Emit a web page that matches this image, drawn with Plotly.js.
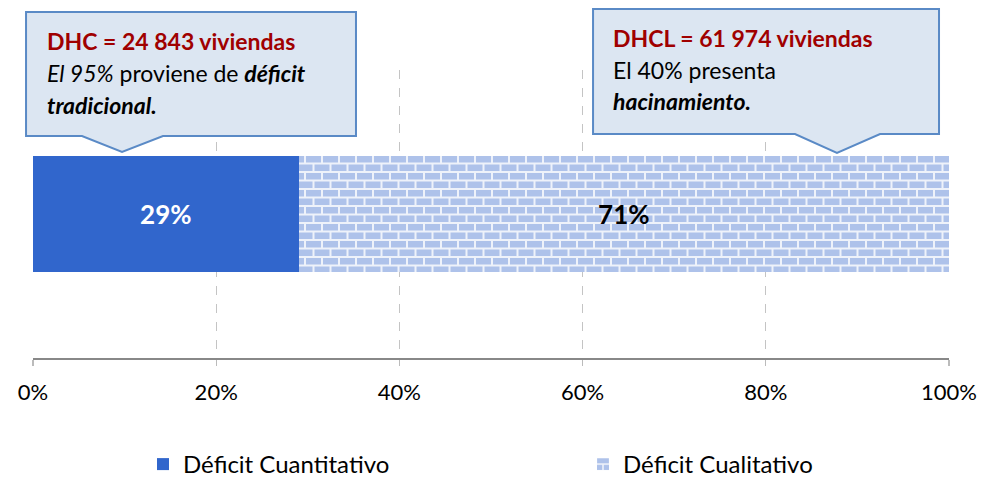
<!DOCTYPE html>
<html><head><meta charset="utf-8">
<script src="https://cdn.plot.ly/plotly-3.0.1.min.js"></script>
<style>body{margin:0;background:#fff}#c{width:981px;height:480px}</style>
</head><body><div id="c"></div>
<script>
const categories = [''];
const seriesNames = ['Déficit Cuantitativo', 'Déficit Cualitativo'];
const cuantitativo = [29];
const cualitativo = [71];
const tickVals = [0, 20, 40, 60, 80, 100];
const tickText = ['0%', '20%', '40%', '60%', '80%', '100%'];

const FONT = 'Lato, "Open Sans", sans-serif';
const L = 33, R = 949, T = 70, B = 358;
const W = R - L, H = B - T;
const px = x => (x - L) / W;
const py = y => (B - y) / H;
function path(pts) {
  return 'M' + pts.map(p => px(p[0]).toFixed(4) + ',' + py(p[1]).toFixed(4)).join(' L') + ' Z';
}

const traces = [
  {type: 'bar', orientation: 'h', name: seriesNames[0], y: categories, x: cuantitativo,
   marker: {color: '#3166cc'}, width: 0.4, legend: 'legend',
   texttemplate: '<b>%{x}%</b>', textposition: 'inside', insidetextanchor: 'middle',
   textfont: {color: '#ffffff', size: 26, family: FONT}, hoverinfo: 'none'},
  {type: 'bar', orientation: 'h', name: seriesNames[1], y: categories, x: cualitativo,
   marker: {color: '#aec2ea', pattern: {shape: '+', fgcolor: '#ffffff', bgcolor: '#aec2ea', size: 8.5, solidity: 0.15, fillmode: 'overlay'}}, width: 0.4, legend: 'legend2',
   texttemplate: '<b>%{x}%</b>', textposition: 'inside', insidetextanchor: 'middle',
   textfont: {color: '#000000', size: 26, family: FONT}, hoverinfo: 'none'}
];

const box1 = [[26,12],[356,12],[356,136],[163,136],[122,152],[82,136],[26,136]];
const box2 = [[593,9],[939,9],[939,134],[880,134],[837,153],[795,134],[593,134]];

const shapes = [box1, box2].map(b => ({
  type: 'path', xref: 'paper', yref: 'paper', path: path(b),
  fillcolor: '#dce6f2', line: {color: '#5a8ac6', width: 2}, layer: 'above'
}));

function ann(x, y, text, color) {
  return {xref: 'paper', yref: 'paper', x: px(x), y: py(y), xanchor: 'left', yanchor: 'middle',
    text: text, showarrow: false, font: {family: FONT, size: 23, color: color || '#000'}, align: 'left'};
}
const annotations = [
  ann(45, 41, '<b>DHC = 24 843 viviendas</b>', '#a00000'),
  ann(45, 73, '<i>El 95%</i> proviene de <b><i>déficit</i></b>'),
  ann(45, 105, '<b><i>tradicional.</i></b>'),
  ann(611, 38, '<b>DHCL = 61 974 viviendas</b>', '#a00000'),
  ann(611, 70, 'El 40% presenta'),
  ann(611, 101, '<b><i>hacinamiento.</i></b>')
];

const legendFont = {family: FONT, size: 24, color: '#000'};
const legY = (480 - 442) / 480;
const layout = {
  width: 981, height: 480,
  margin: {l: L, r: 981 - R, t: T, b: 480 - B},
  paper_bgcolor: '#fff', plot_bgcolor: '#fff',
  barmode: 'stack', showlegend: true,
  font: {family: FONT, size: 22, color: '#000'},
  xaxis: {range: [0, 100], tickvals: tickVals, ticktext: tickText,
    showgrid: true, gridcolor: '#c4c4c4', griddash: 'dash', gridwidth: 1.3,
    showline: true, linecolor: '#888888', linewidth: 2,
    ticks: 'outside', ticklen: 6, tickcolor: '#bbbbbb', tickwidth: 1.3,
    ticklabelstandoff: 8, zeroline: false, fixedrange: true, automargin: false,
    tickfont: {family: FONT, size: 22, color: '#000'}},
  yaxis: {range: [-0.5, 0.5], showgrid: false, showticklabels: false, zeroline: false, fixedrange: true, automargin: false},
  legend: {orientation: 'h', xref: 'container', yref: 'container', x: 143 / 981, xanchor: 'left', y: legY, yanchor: 'top',
    bgcolor: 'rgba(0,0,0,0)', font: legendFont},
  legend2: {orientation: 'h', xref: 'container', yref: 'container', x: 583 / 981, xanchor: 'left', y: legY, yanchor: 'top',
    bgcolor: 'rgba(0,0,0,0)', font: legendFont},
  shapes: shapes, annotations: annotations
};

Plotly.newPlot('c', traces, layout, {displayModeBar: false, staticPlot: true}).then(gd => {
  // brick-style fill for the hatched series
  const NS = 'http://www.w3.org/2000/svg';
  gd.querySelectorAll('pattern').forEach(p => {
    while (p.firstChild) p.removeChild(p.firstChild);
    p.setAttribute('patternUnits', 'userSpaceOnUse');
    p.setAttribute('width', '17');
    p.setAttribute('height', '17');
    p.removeAttribute('viewBox');
    const bg = document.createElementNS(NS, 'rect');
    bg.setAttribute('x', 0); bg.setAttribute('y', 0);
    bg.setAttribute('width', 17); bg.setAttribute('height', 17);
    bg.setAttribute('fill', '#eef2fa');
    p.appendChild(bg);
    [[1, 1], [-7.5, 9.5], [9.5, 9.5]].forEach(([x, y]) => {
      const r = document.createElementNS(NS, 'rect');
      r.setAttribute('x', x); r.setAttribute('y', y);
      r.setAttribute('width', 15); r.setAttribute('height', 6.5);
      r.setAttribute('fill', '#aec2ea');
      p.appendChild(r);
    });
  });
});
</script></body></html>
